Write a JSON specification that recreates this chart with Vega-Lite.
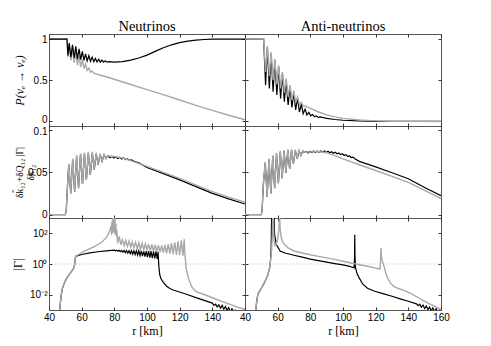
{
  "$schema": "https://vega.github.io/schema/vega-lite/v6.json",
  "padding": {"left": 10, "top": 18, "right": 5, "bottom": 5},
  "background": "white",
  "config": {
    "view": {"stroke": "#555", "strokeWidth": 1},
    "axis": {"grid": false, "domain": false, "tickColor": "#333", "tickSize": -3, "labelFont": "Liberation Sans", "labelFontSize": 10, "labelColor": "#000", "labelPadding": 5, "labelFlush": false, "labelOverlap": false, "titleFont": "Liberation Serif", "titleFontWeight": "normal", "titleFontSize": 12, "titleColor": "#000"},
    "title": {"font": "Liberation Serif", "fontSize": 14.5, "fontWeight": "normal", "offset": -1, "color": "#000"}
  },
  "datasets": {
    "ref1": [{"r":40,"v":1},{"r":160,"v":1}],
    "tl_b": [{"r":40,"v":1},{"r":51.0,"v":1},{"r":51.6,"v":0.80},{"r":52.4,"v":0.95},{"r":53.4,"v":0.78},{"r":54.4,"v":0.93},{"r":55.4,"v":0.77},{"r":56.4,"v":0.91},{"r":57.4,"v":0.76},{"r":58.4,"v":0.88},{"r":59.4,"v":0.75},{"r":60.4,"v":0.85},{"r":61.4,"v":0.74},{"r":62.4,"v":0.82},{"r":63.4,"v":0.735},{"r":64.4,"v":0.8},{"r":65.4,"v":0.73},{"r":66.4,"v":0.78},{"r":67.4,"v":0.725},{"r":68.4,"v":0.765},{"r":69.4,"v":0.722},{"r":70.4,"v":0.755},{"r":71.4,"v":0.72},{"r":72.4,"v":0.745},{"r":73.4,"v":0.72},{"r":74.4,"v":0.735},{"r":75.4,"v":0.72},{"r":77,"v":0.725},{"r":80,"v":0.72},{"r":85,"v":0.725},{"r":90,"v":0.745},{"r":95,"v":0.77},{"r":100,"v":0.805},{"r":105,"v":0.85},{"r":110,"v":0.895},{"r":115,"v":0.93},{"r":120,"v":0.957},{"r":125,"v":0.975},{"r":130,"v":0.987},{"r":135,"v":0.994},{"r":140,"v":0.998},{"r":150,"v":1.0},{"r":160,"v":1.0}],
    "tl_g": [{"r":40,"v":1},{"r":51.0,"v":1},{"r":51.6,"v":0.78},{"r":52.4,"v":0.94},{"r":53.4,"v":0.74},{"r":54.4,"v":0.9},{"r":55.4,"v":0.71},{"r":56.4,"v":0.85},{"r":57.4,"v":0.68},{"r":58.4,"v":0.8},{"r":59.4,"v":0.66},{"r":60.4,"v":0.75},{"r":61.4,"v":0.64},{"r":62.4,"v":0.7},{"r":63.4,"v":0.62},{"r":64.4,"v":0.65},{"r":65.4,"v":0.6},{"r":66.4,"v":0.61},{"r":67.4,"v":0.585},{"r":68.4,"v":0.58},{"r":70,"v":0.57},{"r":77,"v":0.53},{"r":90,"v":0.448},{"r":100,"v":0.386},{"r":110,"v":0.325},{"r":120,"v":0.26},{"r":130,"v":0.196},{"r":140,"v":0.135},{"r":150,"v":0.075},{"r":160,"v":0.02}],
    "tr_g": [{"r":40,"v":1},{"r":51.4,"v":1},{"r":52.6,"v":0.6},{"r":53.7,"v":0.915},{"r":54.9,"v":0.55},{"r":56.0,"v":0.84},{"r":57.2,"v":0.5},{"r":58.3,"v":0.76},{"r":59.5,"v":0.45},{"r":60.6,"v":0.68},{"r":61.8,"v":0.4},{"r":62.9,"v":0.6},{"r":64.1,"v":0.35},{"r":65.2,"v":0.52},{"r":66.4,"v":0.3},{"r":67.6,"v":0.44},{"r":68.7,"v":0.26},{"r":69.9,"v":0.37},{"r":71.0,"v":0.23},{"r":72.2,"v":0.3},{"r":73.3,"v":0.205},{"r":74.5,"v":0.23},{"r":75.6,"v":0.19},{"r":77,"v":0.185},{"r":80,"v":0.16},{"r":85,"v":0.115},{"r":90,"v":0.08},{"r":95,"v":0.055},{"r":100,"v":0.038},{"r":110,"v":0.017},{"r":120,"v":0.007},{"r":130,"v":0.003},{"r":145,"v":0.0005},{"r":160,"v":0}],
    "tr_b": [{"r":40,"v":1},{"r":51.4,"v":1},{"r":52.6,"v":0.44},{"r":53.7,"v":0.9},{"r":54.9,"v":0.4},{"r":56.0,"v":0.82},{"r":57.2,"v":0.36},{"r":58.3,"v":0.74},{"r":59.5,"v":0.32},{"r":60.6,"v":0.66},{"r":61.8,"v":0.28},{"r":62.9,"v":0.58},{"r":64.1,"v":0.24},{"r":65.2,"v":0.5},{"r":66.4,"v":0.2},{"r":67.6,"v":0.42},{"r":68.7,"v":0.17},{"r":69.9,"v":0.35},{"r":71.0,"v":0.14},{"r":72.2,"v":0.28},{"r":73.3,"v":0.115},{"r":74.5,"v":0.21},{"r":75.6,"v":0.095},{"r":76.8,"v":0.15},{"r":77.9,"v":0.08},{"r":79.1,"v":0.11},{"r":80.2,"v":0.068},{"r":81.4,"v":0.085},{"r":82.5,"v":0.058},{"r":83.7,"v":0.068},{"r":84.8,"v":0.05},{"r":86,"v":0.056},{"r":88,"v":0.046},{"r":90,"v":0.038},{"r":95,"v":0.024},{"r":100,"v":0.015},{"r":110,"v":0.006},{"r":120,"v":0.002},{"r":130,"v":0.0005},{"r":145,"v":0},{"r":160,"v":0}],
    "ml_g": [{"r":40,"v":0},{"r":50.0,"v":0},{"r":50.6,"v":0.006},{"r":51.2,"v":0.03},{"r":52.1,"v":0.060},{"r":53.3,"v":0.025},{"r":54.5,"v":0.066},{"r":55.7,"v":0.027},{"r":56.9,"v":0.070},{"r":58.1,"v":0.031},{"r":59.3,"v":0.072},{"r":60.5,"v":0.036},{"r":61.7,"v":0.073},{"r":62.9,"v":0.041},{"r":64.1,"v":0.074},{"r":65.3,"v":0.047},{"r":66.5,"v":0.074},{"r":67.7,"v":0.053},{"r":68.9,"v":0.073},{"r":70.1,"v":0.059},{"r":71.3,"v":0.072},{"r":72.5,"v":0.063},{"r":73.7,"v":0.071},{"r":74.9,"v":0.066},{"r":76.1,"v":0.0695},{"r":77.3,"v":0.0688},{"r":80,"v":0.0685},{"r":85,"v":0.0667},{"r":90,"v":0.0637},{"r":100,"v":0.0568},{"r":110,"v":0.0497},{"r":120,"v":0.0427},{"r":130,"v":0.0348},{"r":140,"v":0.0272},{"r":150,"v":0.0206},{"r":160,"v":0.0145}],
    "ml_b": [{"r":40,"v":0},{"r":50.0,"v":0},{"r":50.6,"v":0.006},{"r":51.2,"v":0.03},{"r":52.1,"v":0.059},{"r":53.3,"v":0.025},{"r":54.5,"v":0.065},{"r":55.7,"v":0.027},{"r":56.9,"v":0.069},{"r":58.1,"v":0.031},{"r":59.3,"v":0.071},{"r":60.5,"v":0.036},{"r":61.7,"v":0.072},{"r":62.9,"v":0.041},{"r":64.1,"v":0.073},{"r":65.3,"v":0.047},{"r":66.5,"v":0.073},{"r":67.7,"v":0.053},{"r":68.9,"v":0.072},{"r":70.1,"v":0.059},{"r":71.3,"v":0.071},{"r":72.5,"v":0.063},{"r":73.7,"v":0.0705},{"r":74.9,"v":0.066},{"r":76.1,"v":0.0695},{"r":77.3,"v":0.0672},{"r":78.5,"v":0.0688},{"r":79.7,"v":0.0668},{"r":80.9,"v":0.0682},{"r":82.1,"v":0.0662},{"r":83.3,"v":0.0675},{"r":84.5,"v":0.0656},{"r":85.7,"v":0.0667},{"r":86.9,"v":0.0648},{"r":88.1,"v":0.0657},{"r":89.3,"v":0.064},{"r":90.5,"v":0.0646},{"r":92,"v":0.0628},{"r":95,"v":0.061},{"r":100,"v":0.0555},{"r":110,"v":0.0483},{"r":120,"v":0.041},{"r":130,"v":0.033},{"r":140,"v":0.025},{"r":150,"v":0.0185},{"r":160,"v":0.0125}],
    "mr_g": [{"r":40,"v":0},{"r":50.0,"v":0},{"r":50.5,"v":0.006},{"r":51.2,"v":0.035},{"r":52.4,"v":0.062},{"r":53.55,"v":0.021},{"r":54.7,"v":0.066},{"r":55.85,"v":0.025},{"r":57.0,"v":0.070},{"r":58.15,"v":0.031},{"r":59.3,"v":0.073},{"r":60.45,"v":0.037},{"r":61.6,"v":0.075},{"r":62.75,"v":0.043},{"r":63.9,"v":0.076},{"r":65.05,"v":0.049},{"r":66.2,"v":0.077},{"r":67.35,"v":0.054},{"r":68.5,"v":0.077},{"r":69.65,"v":0.06},{"r":70.8,"v":0.0765},{"r":71.95,"v":0.066},{"r":73.1,"v":0.076},{"r":74.25,"v":0.07},{"r":75.4,"v":0.0755},{"r":76.5,"v":0.0735},{"r":80,"v":0.074},{"r":85,"v":0.0745},{"r":90,"v":0.073},{"r":95,"v":0.0695},{"r":100,"v":0.0658},{"r":110,"v":0.0588},{"r":120,"v":0.052},{"r":130,"v":0.045},{"r":140,"v":0.038},{"r":150,"v":0.0285},{"r":160,"v":0.019}],
    "mr_b": [{"r":40,"v":0},{"r":50.0,"v":0},{"r":50.5,"v":0.006},{"r":51.2,"v":0.035},{"r":52.4,"v":0.061},{"r":53.55,"v":0.021},{"r":54.7,"v":0.065},{"r":55.85,"v":0.025},{"r":57.0,"v":0.069},{"r":58.15,"v":0.031},{"r":59.3,"v":0.072},{"r":60.45,"v":0.037},{"r":61.6,"v":0.074},{"r":62.75,"v":0.043},{"r":63.9,"v":0.075},{"r":65.05,"v":0.049},{"r":66.2,"v":0.076},{"r":67.35,"v":0.054},{"r":68.5,"v":0.076},{"r":69.65,"v":0.06},{"r":70.8,"v":0.0755},{"r":71.95,"v":0.066},{"r":73.1,"v":0.075},{"r":74.25,"v":0.07},{"r":75.4,"v":0.0748},{"r":76.5,"v":0.0735},{"r":77.6,"v":0.0742},{"r":78.7,"v":0.0728},{"r":79.8,"v":0.0748},{"r":80.9,"v":0.0732},{"r":82.0,"v":0.075},{"r":83.1,"v":0.0734},{"r":84.2,"v":0.0751},{"r":85.3,"v":0.0735},{"r":86.4,"v":0.0751},{"r":87.5,"v":0.0735},{"r":88.6,"v":0.075},{"r":89.7,"v":0.0733},{"r":90.8,"v":0.0747},{"r":91.9,"v":0.0729},{"r":93,"v":0.0742},{"r":94.1,"v":0.0724},{"r":95.2,"v":0.0736},{"r":96.3,"v":0.0717},{"r":97.4,"v":0.0728},{"r":98.5,"v":0.0708},{"r":99.6,"v":0.0718},{"r":100.7,"v":0.0697},{"r":101.8,"v":0.0706},{"r":102.9,"v":0.0686},{"r":104,"v":0.0692},{"r":105.1,"v":0.0673},{"r":106.2,"v":0.0678},{"r":107.3,"v":0.066},{"r":110,"v":0.0628},{"r":120,"v":0.0563},{"r":130,"v":0.0493},{"r":140,"v":0.0423},{"r":150,"v":0.032},{"r":160,"v":0.0222}],
    "bl_g": [{"r":46.5,"v":0.00079},{"r":47.0,"v":0.00316},{"r":47.5,"v":0.01},{"r":48.2,"v":0.0251},{"r":49.0,"v":0.0447},{"r":50,"v":0.0794},{"r":51,"v":0.126},{"r":52,"v":0.178},{"r":53,"v":0.251},{"r":54,"v":0.355},{"r":55,"v":0.501},{"r":55.6,"v":0.794},{"r":56.0,"v":2.0},{"r":56.3,"v":3.16},{"r":60,"v":5.62},{"r":64,"v":8.91},{"r":68,"v":14.1},{"r":72,"v":25.1},{"r":75,"v":50.1},{"r":77,"v":126},{"r":78,"v":316},{"r":78.3,"v":79.4},{"r":78.6,"v":631},{"r":78.9,"v":100},{"r":79.2,"v":1585},{"r":79.5,"v":126},{"r":79.8,"v":1585},{"r":80.1,"v":100},{"r":80.4,"v":1000},{"r":80.7,"v":79.4},{"r":81.0,"v":398},{"r":81.3,"v":63.1},{"r":81.6,"v":158},{"r":82,"v":22.4},{"r":83,"v":63.1},{"r":84,"v":17.8},{"r":85,"v":39.8},{"r":86,"v":15.8},{"r":87,"v":35.5},{"r":88,"v":14.1},{"r":89,"v":31.6},{"r":90,"v":12.6},{"r":91,"v":28.2},{"r":92,"v":11.2},{"r":93,"v":26.3},{"r":94,"v":10},{"r":95,"v":24},{"r":96,"v":9.12},{"r":97,"v":22.4},{"r":98,"v":8.51},{"r":99,"v":20.9},{"r":100,"v":7.94},{"r":101,"v":20},{"r":102,"v":7.41},{"r":103,"v":18.6},{"r":104,"v":6.92},{"r":105,"v":17.4},{"r":106,"v":6.31},{"r":107,"v":16.6},{"r":108,"v":5.89},{"r":109,"v":16.6},{"r":110,"v":5.5},{"r":111,"v":17.8},{"r":112,"v":5.01},{"r":113,"v":20},{"r":114,"v":4.68},{"r":115,"v":22.9},{"r":116,"v":4.37},{"r":117,"v":26.3},{"r":118,"v":3.98},{"r":119,"v":30.2},{"r":120,"v":3.72},{"r":121,"v":35.5},{"r":122,"v":3.47},{"r":122.8,"v":41.7},{"r":123.2,"v":3.98},{"r":123.6,"v":1.58},{"r":124.0,"v":0.501},{"r":125,"v":0.158},{"r":126,"v":0.0794},{"r":127.2,"v":0.0355},{"r":129,"v":0.02},{"r":131,"v":0.0141},{"r":134.3,"v":0.011},{"r":140,"v":0.00631},{"r":145,"v":0.00398},{"r":150,"v":0.00251},{"r":155,"v":0.00158},{"r":160,"v":0.00107}],
    "bl_b": [{"r":46.5,"v":0.00079},{"r":47.0,"v":0.00316},{"r":47.5,"v":0.01},{"r":48.2,"v":0.0251},{"r":49.0,"v":0.0447},{"r":50,"v":0.0794},{"r":51,"v":0.126},{"r":52,"v":0.178},{"r":53,"v":0.251},{"r":54,"v":0.355},{"r":55,"v":0.501},{"r":55.6,"v":0.794},{"r":56.0,"v":2.0},{"r":56.3,"v":3.16},{"r":60,"v":4.17},{"r":65,"v":5.25},{"r":70,"v":6.31},{"r":75,"v":7.24},{"r":80,"v":7.94},{"r":80.75,"v":7.31},{"r":81.5,"v":7.85},{"r":82.25,"v":6.8},{"r":83.0,"v":7.78},{"r":83.75,"v":6.32},{"r":84.5,"v":7.71},{"r":85.25,"v":5.87},{"r":86.0,"v":7.62},{"r":86.75,"v":5.47},{"r":87.5,"v":7.55},{"r":88.25,"v":5.08},{"r":89.0,"v":7.46},{"r":89.75,"v":4.72},{"r":90.5,"v":7.39},{"r":91.25,"v":4.39},{"r":92.0,"v":7.31},{"r":92.75,"v":4.08},{"r":93.5,"v":7.24},{"r":94.25,"v":3.79},{"r":95.0,"v":7.16},{"r":95.75,"v":3.53},{"r":96.5,"v":7.09},{"r":97.25,"v":3.28},{"r":98.0,"v":7.01},{"r":98.75,"v":3.05},{"r":99.5,"v":6.95},{"r":100.25,"v":2.84},{"r":101.0,"v":6.87},{"r":101.75,"v":2.64},{"r":102.5,"v":6.8},{"r":103.25,"v":2.45},{"r":104.0,"v":6.73},{"r":104.75,"v":2.28},{"r":105.5,"v":6.67},{"r":106.25,"v":2.12},{"r":106.8,"v":6.31},{"r":107.0,"v":2.0},{"r":107.3,"v":0.631},{"r":107.8,"v":0.2},{"r":108.5,"v":0.112},{"r":110,"v":0.0631},{"r":112,"v":0.0355},{"r":114,"v":0.0251},{"r":116,"v":0.02},{"r":118,"v":0.0174},{"r":125,"v":0.0098},{"r":130,"v":0.00646},{"r":135,"v":0.00427},{"r":140,"v":0.00282},{"r":141,"v":0.002},{"r":142,"v":0.0024},{"r":143,"v":0.00158},{"r":144,"v":0.00219},{"r":145,"v":0.00132},{"r":146,"v":0.002},{"r":147,"v":0.00112},{"r":148,"v":0.0017},{"r":149,"v":0.00095},{"r":150,"v":0.00145},{"r":151,"v":0.00079},{"r":152,"v":0.0012},{"r":153,"v":0.00079},{"r":154,"v":0.001},{"r":155,"v":0.00079}],
    "br_g": [{"r":46.5,"v":0.00079},{"r":47,"v":0.00251},{"r":47.8,"v":0.01},{"r":49,"v":0.0178},{"r":50,"v":0.0263},{"r":52,"v":0.0631},{"r":54,"v":0.195},{"r":55,"v":0.501},{"r":55.6,"v":1.58},{"r":56.1,"v":4.07},{"r":56.6,"v":31.6},{"r":57.0,"v":1585},{"r":57.3,"v":1585},{"r":57.7,"v":39.8},{"r":58.3,"v":15.8},{"r":59,"v":17.8},{"r":60,"v":39.8},{"r":60.8,"v":200},{"r":61.2,"v":1585},{"r":61.5,"v":200},{"r":62.2,"v":51.3},{"r":63.5,"v":22.4},{"r":66.4,"v":11.2},{"r":70,"v":7.08},{"r":75,"v":5.25},{"r":80,"v":3.98},{"r":85,"v":3.16},{"r":90,"v":2.51},{"r":95,"v":2.0},{"r":100,"v":1.51},{"r":105,"v":1.17},{"r":110,"v":0.891},{"r":115,"v":0.708},{"r":120,"v":0.537},{"r":122.6,"v":0.468},{"r":122.9,"v":1.0},{"r":123.2,"v":11.2},{"r":123.5,"v":3.55},{"r":124,"v":1.58},{"r":125,"v":0.794},{"r":126,"v":0.316},{"r":127.2,"v":0.126},{"r":129,"v":0.0562},{"r":131.3,"v":0.0339},{"r":134,"v":0.0251},{"r":137.4,"v":0.0191},{"r":142,"v":0.0112},{"r":147,"v":0.00562},{"r":152,"v":0.00282},{"r":156,"v":0.00178},{"r":160,"v":0.00107}],
    "br_b": [{"r":46.5,"v":0.00079},{"r":47,"v":0.00251},{"r":47.8,"v":0.01},{"r":49,"v":0.0178},{"r":50,"v":0.0263},{"r":52,"v":0.0631},{"r":54,"v":0.195},{"r":55,"v":0.501},{"r":55.6,"v":1.58},{"r":56.0,"v":10},{"r":56.3,"v":1585},{"r":56.6,"v":1585},{"r":56.9,"v":63.1},{"r":57.2,"v":316},{"r":57.5,"v":1585},{"r":57.8,"v":1585},{"r":58.1,"v":85.1},{"r":59.2,"v":18.6},{"r":61.6,"v":6.76},{"r":65,"v":5.01},{"r":70,"v":3.72},{"r":75,"v":2.82},{"r":80,"v":2.09},{"r":85,"v":1.66},{"r":90,"v":1.32},{"r":95,"v":1.07},{"r":100,"v":0.871},{"r":104,"v":0.708},{"r":106.8,"v":0.562},{"r":107.05,"v":2.0},{"r":107.2,"v":79.4},{"r":107.35,"v":3.16},{"r":107.6,"v":0.631},{"r":108.5,"v":0.251},{"r":110,"v":0.12},{"r":112,"v":0.0501},{"r":115,"v":0.0263},{"r":119,"v":0.0174},{"r":125,"v":0.0112},{"r":130,"v":0.00794},{"r":135,"v":0.00537},{"r":140,"v":0.00372},{"r":145,"v":0.00251},{"r":146,"v":0.00191},{"r":147,"v":0.0024},{"r":148,"v":0.00151},{"r":149,"v":0.00209},{"r":150,"v":0.00126},{"r":151,"v":0.00182},{"r":152,"v":0.00107},{"r":153,"v":0.00158},{"r":154,"v":0.00089},{"r":155,"v":0.00138},{"r":156,"v":0.00079},{"r":157,"v":0.0012},{"r":158,"v":0.00079},{"r":159,"v":0.001},{"r":160,"v":0.00079}]
  },
  "columns": 2,
  "spacing": 0,
  "bounds": "flush",
  "concat": [
    {
      "width": 196, "height": 92,
      "title": "Neutrinos",
      "layer": [
        {"data": {"name": "tl_g"}, "mark": {"type": "line", "color": "#a8a8a8", "strokeWidth": 1.4, "clip": true},
         "encoding": {
           "x": {"field": "r", "type": "quantitative", "scale": {"domain": [40, 160], "nice": false, "zero": false}, "axis": {"orient": "bottom", "values": [40, 60, 80, 100, 120, 140, 160], "labels": false, "title": null}},
           "y": {"field": "v", "type": "quantitative", "scale": {"domain": [-0.055, 1.061], "nice": false, "zero": false}, "axis": {"orient": "left", "values": [0, 0.5, 1], "format": "~g", "labelOffset": {"condition": {"test": "datum.value == 0", "value": -1.5}, "value": 0}, "title": "P(νₑ → νₑ)", "titleX": -30, "titleBaseline": "middle", "titleFontStyle": "italic"}}}},
        {"data": {"name": "tl_b"}, "mark": {"type": "line", "color": "#000", "strokeWidth": 1.2, "clip": true},
         "encoding": {
           "x": {"field": "r", "type": "quantitative", "scale": {"domain": [40, 160], "nice": false, "zero": false}, "axis": {"orient": "top", "values": [40, 60, 80, 100, 120, 140, 160], "labels": false, "title": null}},
           "y": {"field": "v", "type": "quantitative", "scale": {"domain": [-0.055, 1.061], "nice": false, "zero": false}, "axis": {"orient": "right", "values": [0, 0.5, 1], "labels": false, "title": null}}}}
      ]
    },
    {
      "width": 196, "height": 92,
      "title": "Anti-neutrinos",
      "layer": [
        {"data": {"name": "tr_b"}, "mark": {"type": "line", "color": "#000", "strokeWidth": 1.2, "clip": true},
         "encoding": {
           "x": {"field": "r", "type": "quantitative", "scale": {"domain": [40, 160], "nice": false, "zero": false}, "axis": {"orient": "bottom", "values": [40, 60, 80, 100, 120, 140, 160], "labels": false, "title": null}},
           "y": {"field": "v", "type": "quantitative", "scale": {"domain": [-0.055, 1.061], "nice": false, "zero": false}, "axis": {"orient": "left", "values": [0, 0.5, 1], "labels": false, "title": null}}}},
        {"data": {"name": "tr_g"}, "mark": {"type": "line", "color": "#a8a8a8", "strokeWidth": 1.4, "clip": true},
         "encoding": {
           "x": {"field": "r", "type": "quantitative", "scale": {"domain": [40, 160], "nice": false, "zero": false}, "axis": {"orient": "top", "values": [40, 60, 80, 100, 120, 140, 160], "labels": false, "title": null}},
           "y": {"field": "v", "type": "quantitative", "scale": {"domain": [-0.055, 1.061], "nice": false, "zero": false}, "axis": {"orient": "right", "values": [0, 0.5, 1], "labels": false, "title": null}}}}
      ]
    },
    {
      "width": 196, "height": 92,
      "layer": [
        {"data": {"name": "ml_b"}, "mark": {"type": "line", "color": "#000", "strokeWidth": 1.2, "clip": true},
         "encoding": {
           "x": {"field": "r", "type": "quantitative", "scale": {"domain": [40, 160], "nice": false, "zero": false}, "axis": {"orient": "bottom", "values": [40, 60, 80, 100, 120, 140, 160], "labels": false, "title": null}},
           "y": {"field": "v", "type": "quantitative", "scale": {"domain": [-0.004, 0.1045], "nice": false, "zero": false}, "axis": {"orient": "left", "values": [0, 0.05, 0.1], "format": "~g", "labelOffset": {"condition": {"test": "datum.value == 0.1", "value": 1.5}, "value": 0}, "title": ["δk̃₁₂+δQ₁₂ |Γ|", "δk₁₂\u00a0\u00a0\u00a0\u00a0\u00a0\u00a0\u00a0\u00a0"], "titleFontSize": 9.5, "titleX": -30, "titleBaseline": "middle"}}}},
        {"data": {"name": "ml_g"}, "mark": {"type": "line", "color": "#a8a8a8", "strokeWidth": 1.4, "clip": true},
         "encoding": {
           "x": {"field": "r", "type": "quantitative", "scale": {"domain": [40, 160], "nice": false, "zero": false}, "axis": {"orient": "top", "values": [40, 60, 80, 100, 120, 140, 160], "labels": false, "title": null}},
           "y": {"field": "v", "type": "quantitative", "scale": {"domain": [-0.004, 0.1045], "nice": false, "zero": false}, "axis": {"orient": "right", "values": [0, 0.05, 0.1], "labels": false, "title": null}}}}
      ]
    },
    {
      "width": 196, "height": 92,
      "layer": [
        {"data": {"name": "mr_b"}, "mark": {"type": "line", "color": "#000", "strokeWidth": 1.2, "clip": true},
         "encoding": {
           "x": {"field": "r", "type": "quantitative", "scale": {"domain": [40, 160], "nice": false, "zero": false}, "axis": {"orient": "bottom", "values": [40, 60, 80, 100, 120, 140, 160], "labels": false, "title": null}},
           "y": {"field": "v", "type": "quantitative", "scale": {"domain": [-0.004, 0.1045], "nice": false, "zero": false}, "axis": {"orient": "left", "values": [0, 0.05, 0.1], "labels": false, "title": null}}}},
        {"data": {"name": "mr_g"}, "mark": {"type": "line", "color": "#a8a8a8", "strokeWidth": 1.4, "clip": true},
         "encoding": {
           "x": {"field": "r", "type": "quantitative", "scale": {"domain": [40, 160], "nice": false, "zero": false}, "axis": {"orient": "top", "values": [40, 60, 80, 100, 120, 140, 160], "labels": false, "title": null}},
           "y": {"field": "v", "type": "quantitative", "scale": {"domain": [-0.004, 0.1045], "nice": false, "zero": false}, "axis": {"orient": "right", "values": [0, 0.05, 0.1], "labels": false, "title": null}}}}
      ]
    },
    {
      "width": 196, "height": 92,
      "layer": [
        {"data": {"name": "ref1"}, "mark": {"type": "line", "color": "#b0b0b0", "strokeDash": [1, 2], "strokeWidth": 0.8, "clip": true},
         "encoding": {
           "x": {"field": "r", "type": "quantitative", "scale": {"domain": [40, 160], "nice": false, "zero": false}, "axis": null},
           "y": {"field": "v", "type": "quantitative", "scale": {"type": "log", "domain": [0.001, 1000], "nice": false}, "axis": null}}},
        {"data": {"name": "bl_b"}, "mark": {"type": "line", "color": "#000", "strokeWidth": 1.2, "clip": true},
         "encoding": {
           "x": {"field": "r", "type": "quantitative", "scale": {"domain": [40, 160], "nice": false, "zero": false}, "axis": {"orient": "bottom", "values": [40, 60, 80, 100, 120, 140, 160], "labelExpr": "datum.value == 160 ? '' : datum.label", "title": "r [km]", "titlePadding": 3}},
           "y": {"field": "v", "type": "quantitative", "scale": {"type": "log", "domain": [0.001, 1000], "nice": false}, "axis": {"orient": "left", "values": [0.01, 1, 100], "labelExpr": "datum.value < 0.1 ? '10⁻²' : (datum.value < 10 ? '10⁰' : '10²')", "title": "|Γ|", "titleX": -32, "titleBaseline": "middle"}}}},
        {"data": {"name": "bl_g"}, "mark": {"type": "line", "color": "#a8a8a8", "strokeWidth": 1.4, "clip": true},
         "encoding": {
           "x": {"field": "r", "type": "quantitative", "scale": {"domain": [40, 160], "nice": false, "zero": false}, "axis": {"orient": "top", "values": [40, 60, 80, 100, 120, 140, 160], "labels": false, "title": null}},
           "y": {"field": "v", "type": "quantitative", "scale": {"type": "log", "domain": [0.001, 1000], "nice": false}, "axis": {"orient": "right", "values": [0.01, 1, 100], "labels": false, "title": null}}}}
      ]
    },
    {
      "width": 196, "height": 92,
      "layer": [
        {"data": {"name": "ref1"}, "mark": {"type": "line", "color": "#b0b0b0", "strokeDash": [1, 2], "strokeWidth": 0.8, "clip": true},
         "encoding": {
           "x": {"field": "r", "type": "quantitative", "scale": {"domain": [40, 160], "nice": false, "zero": false}, "axis": null},
           "y": {"field": "v", "type": "quantitative", "scale": {"type": "log", "domain": [0.001, 1000], "nice": false}, "axis": null}}},
        {"data": {"name": "br_b"}, "mark": {"type": "line", "color": "#000", "strokeWidth": 1.2, "clip": true},
         "encoding": {
           "x": {"field": "r", "type": "quantitative", "scale": {"domain": [40, 160], "nice": false, "zero": false}, "axis": {"orient": "bottom", "values": [40, 60, 80, 100, 120, 140, 160], "title": "r [km]", "titlePadding": 3}},
           "y": {"field": "v", "type": "quantitative", "scale": {"type": "log", "domain": [0.001, 1000], "nice": false}, "axis": {"orient": "left", "values": [0.01, 1, 100], "labels": false, "title": null}}}},
        {"data": {"name": "br_g"}, "mark": {"type": "line", "color": "#a8a8a8", "strokeWidth": 1.4, "clip": true},
         "encoding": {
           "x": {"field": "r", "type": "quantitative", "scale": {"domain": [40, 160], "nice": false, "zero": false}, "axis": {"orient": "top", "values": [40, 60, 80, 100, 120, 140, 160], "labels": false, "title": null}},
           "y": {"field": "v", "type": "quantitative", "scale": {"type": "log", "domain": [0.001, 1000], "nice": false}, "axis": {"orient": "right", "values": [0.01, 1, 100], "labels": false, "title": null}}}}
      ]
    }
  ]
}
